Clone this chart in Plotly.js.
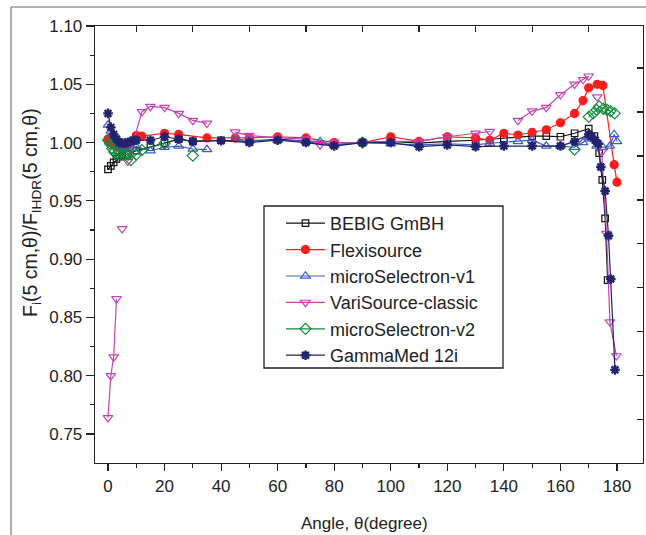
<!DOCTYPE html>
<html>
<head>
<meta charset="utf-8">
<script src="https://cdn.plot.ly/plotly-3.0.1.min.js"></script>
<style>html,body{margin:0;padding:0;background:#fff;}#chart{width:646px;height:535px;}</style>
</head>
<body>
<div id="chart"></div>
<script>
// ---- data ----
const seriesNames = ["BEBIG GmBH","Flexisource","microSelectron-v1","VariSource-classic","microSelectron-v2","GammaMed 12i"];

const bebigX = [0,1,2,3,4,5,7,10,15,20,25,30,40,50,60,70,80,90,100,110,120,130,140,150,155,160,165,170,172,173.7,174.8,175.8,176.7];
const bebigY = [0.977,0.980,0.983,0.986,0.988,0.989,0.990,0.993,0.996,0.9995,1.003,1.001,1.002,1.001,1.003,1.001,0.998,1.000,1.001,0.9995,1.001,1.002,1.0037,1.0056,1.0056,1.005,1.008,1.012,1.0056,0.991,0.968,0.935,0.882];

const flexX = [0,1,2,3,4,5,6,8,10,12,20,25,35,45,50,60,70,80,90,100,110,120,130,135,140,145,150,155,160,165,168,170,173,175,179,180];
const flexY = [1.003,1.000,0.998,0.997,0.996,0.996,0.997,0.999,1.006,1.0055,1.008,1.007,1.004,1.004,1.004,1.005,1.004,1.000,1.000,1.005,1.001,1.005,1.004,1.002,1.008,1.0065,1.0087,1.011,1.017,1.025,1.036,1.047,1.050,1.049,0.981,0.966];

const mv1X = [0,1,2,3,5,7,10,15,20,25,30,35,40,45,50,60,70,75,80,90,100,110,120,130,135,145,150,155,160,165,168,170,171,172.8,175,177.5,179,180];
const mv1Y = [1.015,1.010,1.003,0.997,0.995,0.994,0.9965,0.993,0.996,0.997,0.9945,0.994,null,1.003,1.002,1.002,1.001,1.001,0.998,1.000,0.999,0.998,0.999,0.998,0.9994,1.001,1.002,0.997,0.997,0.996,1.000,1.005,1.003,0.997,0.996,0.997,1.007,1.001];

const variX = [0,1,2,3,4,5,6,7,12,15,20,25,30,35,40,45,50,60,70,75,80,90,100,110,120,130,135,140,145,150,155,160,165,168,170,172,173,174,174.6,176.3,177.5,179.8];
const variY = [0.764,0.800,0.816,0.866,null,0.926,null,0.984,1.0265,1.031,1.030,1.025,1.019,1.0165,null,1.009,1.006,1.004,1.003,0.998,1.000,1.000,1.001,1.001,1.005,1.008,1.0095,null,1.019,1.027,1.030,1.041,1.050,1.054,1.057,null,1.039,null,0.992,0.922,0.846,0.817];

const mv2X = [0,0.7,1.5,2.2,3,4,5.3,6.3,7.2,8.1,10,12,20,25,30,35,90,95,165,168,170,171.6,172.8,173.7,175.2,176.5,177.7,179.2];
const mv2Y = [1.002,0.999,0.995,0.992,0.990,0.9898,0.9898,0.9898,0.9898,0.985,0.9898,0.9936,0.9994,null,0.9888,null,1.000,null,0.994,null,1.022,1.025,1.028,1.031,1.029,1.028,1.027,1.025];

const gmX = [0,1,2,3,4,5,6,7,8,9,10,15,20,25,30,40,50,60,70,80,90,100,110,120,130,140,150,160,165,170,171,172.3,173.3,174.3,175.8,177,177.8,179.3];
const gmY = [1.025,1.013,1.007,1.003,1.000,0.9995,0.9995,1.000,1.001,1.002,1.002,1.002,1.005,1.003,1.001,1.0016,1.000,1.002,1.000,0.997,1.000,1.000,0.9965,0.998,0.9965,0.997,0.997,0.997,1.001,1.007,1.005,1.002,0.999,0.979,0.9585,0.920,0.883,0.805];

const xTickVals = [0,20,40,60,80,100,120,140,160,180];
const yTickVals = [0.75,0.80,0.85,0.90,0.95,1.00,1.05,1.10];
const topTickVals = [10,30,50,70,90,110,130,150,170];
const rightTickVals = [0.7623,0.800,0.8377,0.8754,0.9131,0.9508,0.9885,1.0262,1.0639];

// ---- styling ----
const FONT = "'Liberation Sans', Arial, Helvetica, sans-serif";
const TXT = '#222';

function tr(name, x, y, color, symbol, size, lw) {
  return {
    type: 'scatter', mode: 'lines+markers', name: name, x: x, y: y,
    connectgaps: false,
    line: {color: color, width: 1.2},
    marker: {symbol: symbol, size: size, color: color, line: {color: color, width: lw || 1.2}}
  };
}

const data = [
  tr(seriesNames[0], bebigX, bebigY, '#111111', 'square-open', 6.5),
  tr(seriesNames[1], flexX, flexY, '#FF1C1C', 'circle', 8),
  tr(seriesNames[2], mv1X, mv1Y, '#3F5FC0', 'triangle-up-open', 8.5),
  tr(seriesNames[3], variX, variY, '#C444B4', 'triangle-down-open', 8.5),
  tr(seriesNames[4], mv2X, mv2Y, '#0E8C3C', 'diamond-open', 8.5),
  tr(seriesNames[5], gmX, gmY, '#22226E', 'asterisk-open', 8, 2.4),
  {type:'scatter', x:[], y:[], xaxis:'x2', yaxis:'y2', showlegend:false, hoverinfo:'skip'}
];

const W = 646, H = 535, L = 95, R = 3, T = 26, B = 72;
const pw = W - L - R, ph = H - T - B;
const px = v => (v - L) / pw;
const py = v => (H - B - v) / ph;

const axisCommon = {
  showgrid: false, zeroline: false, showline: true, linecolor: TXT, linewidth: 1.3,
  tickcolor: TXT, tickwidth: 1.2, tickfont: {family: FONT, size: 17, color: TXT}
};

const layout = {
  width: W, height: H,
  margin: {l: L, r: R, t: T, b: B, pad: 0},
  paper_bgcolor: '#fff', plot_bgcolor: '#fff',
  font: {family: FONT, size: 17, color: TXT},
  showlegend: true,
  xaxis: Object.assign({}, axisCommon, {
    range: [-4.6, 189.2], tickmode: 'array', tickvals: xTickVals, ticks: 'outside', ticklen: 7,
    minor: {ticks: 'outside', tick0: 0, dtick: 10, ticklen: 4, tickcolor: TXT, tickwidth: 1.2, showgrid: false}
  }),
  yaxis: Object.assign({}, axisCommon, {
    range: [0.7251, 1.10], tickmode: 'array', tickvals: yTickVals, tickformat: '.2f', ticks: 'outside', ticklen: 8,
    minor: {ticks: 'outside', tick0: 0.75, dtick: 0.025, ticklen: 4, tickcolor: TXT, tickwidth: 1.2, showgrid: false}
  }),
  xaxis2: Object.assign({}, axisCommon, {
    overlaying: 'x', side: 'top', anchor: 'y2', range: [-4.6, 189.2], tickmode: 'array', tickvals: topTickVals,
    ticks: 'inside', ticklen: 6, showticklabels: false
  }),
  yaxis2: Object.assign({}, axisCommon, {
    overlaying: 'y', side: 'right', anchor: 'x2', range: [0.7251, 1.10], tickmode: 'array', tickvals: rightTickVals,
    ticks: 'inside', ticklen: 6, showticklabels: false
  }),
  legend: {
    x: px(281), y: py(205), xanchor: 'left', yanchor: 'top',
    bgcolor: 'rgba(0,0,0,0)', borderwidth: 0, itemwidth: 39,
    font: {family: FONT, size: 18, color: TXT}, traceorder: 'normal'
  },
  annotations: [
    {text: 'Angle, θ(degree)', xref: 'paper', yref: 'paper', x: px(364), y: py(523), xanchor: 'center', yanchor: 'middle',
     showarrow: false, font: {family: FONT, size: 17, color: TXT}},
    {text: 'F<sub>i</sub>(5 cm,θ)/F<sub>IHDR</sub>(5 cm,θ)', xref: 'paper', yref: 'paper', x: px(32), y: py(213),
     xanchor: 'center', yanchor: 'middle', textangle: -90, showarrow: false, font: {family: FONT, size: 19.5, color: TXT}}
  ],
  shapes: [
    {type: 'line', xref: 'paper', yref: 'paper', x0: px(11), x1: px(11), y0: py(7), y1: py(535), line: {color: '#9a9a9a', width: 1.6}},
    {type: 'line', xref: 'paper', yref: 'paper', x0: px(11), x1: px(646), y0: py(7), y1: py(7), line: {color: '#9a9a9a', width: 1.6}},
    {type: 'rect', xref: 'paper', yref: 'paper', x0: px(264), x1: px(503), y0: py(206), y1: py(368),
     fillcolor: '#fff', line: {color: TXT, width: 1.3}, layer: 'above'}
  ]
};

Plotly.newPlot('chart', data, layout, {displayModeBar: false, staticPlot: true});
</script>
</body>
</html>
